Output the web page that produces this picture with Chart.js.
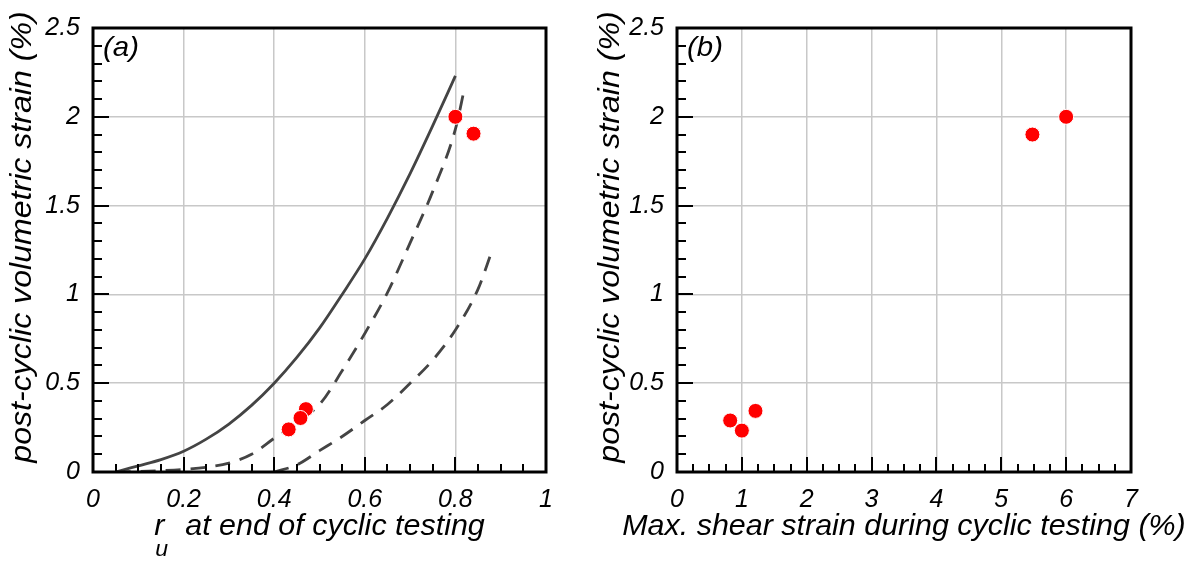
<!DOCTYPE html>
<html>
<head>
<meta charset="utf-8">
<script src="https://cdn.jsdelivr.net/npm/chart.js@4.4.0/dist/chart.umd.min.js"></script>
<style>
  html, body { margin: 0; padding: 0; background: #fff; }
  #wrap { position: relative; width: 1191px; height: 561px; }
  canvas { position: absolute; top: 0; }
  #chartA { left: 0; }
  #chartB { left: 595px; }
</style>
</head>
<body>
<div id="wrap">
  <canvas id="chartA" width="595" height="561"></canvas>
  <canvas id="chartB" width="596" height="561"></canvas>
</div>
<script>
// ---- panel (a): r_u vs volumetric strain ----
const solidX = [0.05, 0.1, 0.15, 0.2, 0.25, 0.3, 0.35, 0.4, 0.45, 0.5, 0.55, 0.6, 0.65, 0.7, 0.75, 0.8];
const solidY = [0, 0.035, 0.07, 0.117, 0.185, 0.27, 0.375, 0.5, 0.645, 0.81, 1.0, 1.2, 1.43, 1.68, 1.95, 2.23];

const midDashX = [0.05, 0.1, 0.15, 0.2, 0.25, 0.3, 0.35, 0.4, 0.45, 0.5, 0.55, 0.6, 0.65, 0.7, 0.75, 0.8, 0.82];
const midDashY = [0, 0.003, 0.008, 0.015, 0.027, 0.05, 0.1, 0.19, 0.28, 0.38, 0.57, 0.78, 1.01, 1.29, 1.58, 1.93, 2.16];

const lowDashX = [0.4, 0.45, 0.5, 0.55, 0.6, 0.65, 0.7, 0.75, 0.8, 0.85, 0.88];
const lowDashY = [0, 0.04, 0.12, 0.2, 0.29, 0.38, 0.5, 0.63, 0.8, 1.03, 1.24];

const ruTests = [0.8, 0.84, 0.47, 0.432, 0.458];
const strainA = [2.0, 1.905, 0.354, 0.24, 0.304];

// ---- panel (b): max shear strain vs volumetric strain ----
const shearTests = [6.0, 5.48, 1.21, 0.82, 1.0];
const strainB = [2.0, 1.9, 0.344, 0.29, 0.233];

// ---- axis ticks ----
const ticksRu = [0, 0.2, 0.4, 0.6, 0.8, 1];
const ticksShear = [0, 1, 2, 3, 4, 5, 6, 7];
const ticksStrain = [0, 0.5, 1, 1.5, 2, 2.5];

const FONT = "'Liberation Sans', Arial, sans-serif";
const Y_TITLE = 'post-cyclic volumetric strain (%)';

function pts(xs, ys) {
    return xs.map((x, i) => ({ x: x, y: ys[i] }));
}

function stretchText(ctx, text, x, y, sx) {
    ctx.save();
    ctx.translate(x, y);
    ctx.scale(sx, 1);
    ctx.fillText(text, 0, 0);
    ctx.restore();
}

function isMajor(list, v) {
    return list.some(t => Math.abs(t - v) < 1e-6);
}

// frame, inward ticks, titles and panel letter
function makeDecor(o) {
    return {
        id: 'panelDecor',
        afterDatasetsDraw(chart) {
            const ctx = chart.ctx;
            const { left, right, top, bottom } = chart.chartArea;
            const xs = chart.scales.x, ys = chart.scales.y;
            ctx.save();
            ctx.strokeStyle = '#000';
            ctx.lineWidth = 2;
            ctx.setLineDash([]);

            const nx = Math.round((xs.max - xs.min) / o.xMinor);
            for (let i = 1; i < nx; i++) {
                const v = xs.min + i * o.xMinor;
                const px = Math.round(xs.getPixelForValue(v));
                ctx.beginPath();
                ctx.moveTo(px, bottom);
                ctx.lineTo(px, bottom - (isMajor(o.xMajor, v) ? 15 : 8));
                ctx.stroke();
            }
            const ny = Math.round((ys.max - ys.min) / o.yMinor);
            for (let i = 1; i < ny; i++) {
                const v = ys.min + i * o.yMinor;
                const py = Math.round(ys.getPixelForValue(v));
                ctx.beginPath();
                ctx.moveTo(left, py);
                ctx.lineTo(left + (isMajor(ticksStrain, v) ? 16 : 9), py);
                ctx.stroke();
            }

            ctx.lineWidth = 3;
            ctx.strokeRect(left, top, right - left, bottom - top);

            ctx.fillStyle = '#000';
            // panel letter
            ctx.font = 'italic 28px ' + FONT;
            ctx.textAlign = 'left';
            ctx.textBaseline = 'alphabetic';
            stretchText(ctx, o.letter, left + 10, 56, 1.05);

            // y title
            ctx.save();
            ctx.font = 'italic 30px ' + FONT;
            ctx.textAlign = 'center';
            ctx.translate(o.yTitleX, 237);
            ctx.rotate(-Math.PI / 2);
            ctx.scale(1.07, 1);
            ctx.fillText(Y_TITLE, 0, 0);
            ctx.restore();

            // x title
            const cx = (left + right) / 2;
            const sx = 1.05;
            ctx.font = 'italic 29px ' + FONT;
            ctx.textAlign = 'left';
            if (o.subscript) {
                const rest = 'at end of cyclic testing';
                const total = 31 + ctx.measureText(rest).width * sx;
                const x0 = cx - total / 2;
                stretchText(ctx, 'r', x0, 535, sx);
                ctx.font = 'italic 22px ' + FONT;
                stretchText(ctx, 'u', x0 + 1, 556, sx);
                ctx.font = 'italic 29px ' + FONT;
                stretchText(ctx, rest, x0 + 31, 535, sx);
            } else {
                const w = ctx.measureText(o.xTitle).width * sx;
                stretchText(ctx, o.xTitle, cx - w / 2, 535, sx);
            }
            ctx.restore();
        }
    };
}

function axisOptions(cfg) {
    const tickFont = { family: FONT, size: 25, style: 'italic' };
    const grid = { color: '#c8c8c8', lineWidth: 1.5, drawTicks: false };
    return {
        responsive: false,
        animation: false,
        layout: { padding: { left: 0, top: 22, right: cfg.padRight, bottom: 0 } },
        plugins: {
            legend: { display: false },
            tooltip: { enabled: false }
        },
        scales: {
            x: {
                type: 'linear',
                min: cfg.xTicks[0],
                max: cfg.xTicks[cfg.xTicks.length - 1],
                afterBuildTicks: s => { s.ticks = cfg.xTicks.map(v => ({ value: v })); },
                afterFit: s => { s.height = 89; },
                grid: grid,
                border: { display: false },
                ticks: { padding: 13, color: '#000', font: tickFont, maxRotation: 0, callback: v => String(v) }
            },
            y: {
                type: 'linear',
                min: 0,
                max: 2.5,
                afterBuildTicks: s => { s.ticks = ticksStrain.map(v => ({ value: v })); },
                afterFit: s => { s.width = cfg.yWidth; },
                grid: grid,
                border: { display: false },
                ticks: { padding: 13, color: '#000', font: tickFont, callback: v => String(v) }
            }
        }
    };
}

function curve(data, dash) {
    return {
        type: 'line',
        data: data,
        borderColor: '#444',
        borderWidth: 2.8,
        borderDash: dash,
        pointRadius: 0,
        fill: false,
        cubicInterpolationMode: 'monotone',
        order: 2
    };
}

function tests(data) {
    return {
        type: 'scatter',
        data: data,
        backgroundColor: '#ff0000',
        borderColor: '#ffffff',
        borderWidth: 1,
        pointRadius: 7.5,
        order: 1
    };
}

new Chart(document.getElementById('chartA'), {
    type: 'scatter',
    data: {
        datasets: [
            curve(pts(solidX, solidY), []),
            curve(pts(midDashX, midDashY), [15, 10]),
            curve(pts(lowDashX, lowDashY), [15, 10]),
            tests(pts(ruTests, strainA))
        ]
    },
    options: axisOptions({ xTicks: ticksRu, padRight: 49, yWidth: 93 }),
    plugins: [makeDecor({ letter: '(a)', xMinor: 0.05, xMajor: ticksRu, yMinor: 0.1, yTitleX: 30.5, subscript: true })]
});

new Chart(document.getElementById('chartB'), {
    type: 'scatter',
    data: {
        datasets: [tests(pts(shearTests, strainB))]
    },
    options: axisOptions({ xTicks: ticksShear, padRight: 60, yWidth: 82 }),
    plugins: [makeDecor({ letter: '(b)', xMinor: 0.25, xMajor: ticksShear, yMinor: 0.1, yTitleX: 23.5,
                          xTitle: 'Max. shear strain during cyclic testing (%)' })]
});
</script>
</body>
</html>
